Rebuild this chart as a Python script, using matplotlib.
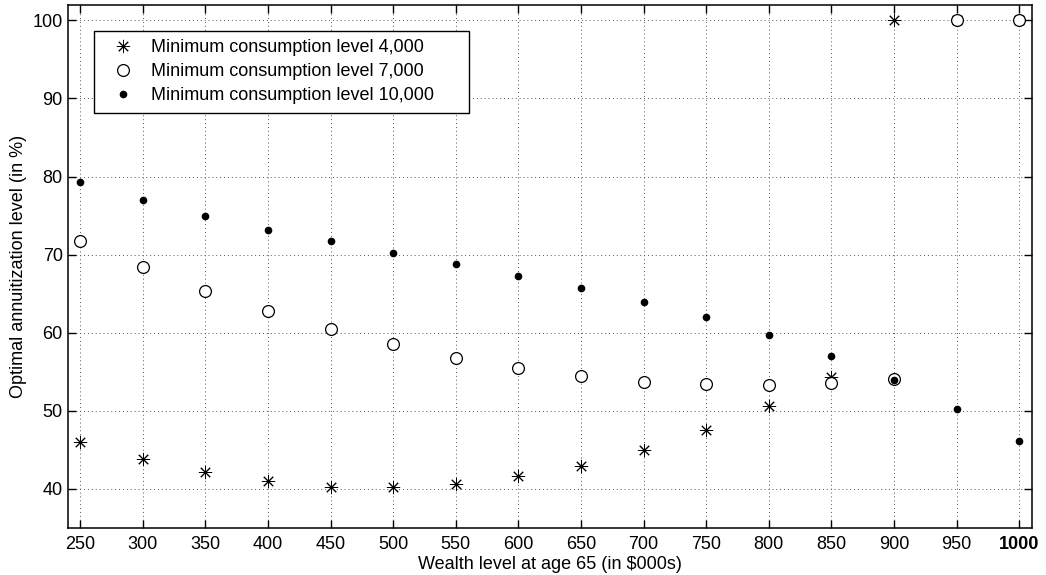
import matplotlib
matplotlib.use("Agg")
import matplotlib.pyplot as plt

wealth = [250, 300, 350, 400, 450, 500, 550, 600, 650, 700, 750, 800, 850, 900, 950, 1000]
min_4000 = [46.0, 43.8, 42.2, 41.0, 40.3, 40.2, 40.6, 41.6, 43.0, 45.0, 47.5, 50.6, 54.3, 100, 100, 100]
min_7000 = [71.7, 68.4, 65.4, 62.8, 60.5, 58.5, 56.8, 55.5, 54.4, 53.7, 53.4, 53.3, 53.6, 54.1, 100, 100]
min_10000 = [79.3, 77.0, 75.0, 73.2, 71.7, 70.2, 68.8, 67.3, 65.7, 63.9, 62.0, 59.7, 57.0, 54.0, 50.3, 46.2]
labels = ["Minimum consumption level 4,000",
          "Minimum consumption level 7,000",
          "Minimum consumption level 10,000"]
xticks = wealth
yticks = [40, 50, 60, 70, 80, 90, 100]

plt.rcParams['font.family'] = ['Liberation Sans', 'DejaVu Sans']
FS = 13

fig = plt.figure(figsize=(10.46, 5.75), dpi=100)
ax = fig.add_axes([0.0647, 0.0817, 0.9216, 0.9101])

ax.plot(wealth, min_4000, linestyle='none', marker=(8, 2, 0), markersize=9.5,
        markeredgewidth=0.7, color='black', label=labels[0], zorder=3)
ax.plot(wealth, min_7000, linestyle='none', marker='o', markersize=8.5,
        markerfacecolor='white', markeredgecolor='black', markeredgewidth=0.9,
        label=labels[1], zorder=4)
ax.plot(wealth, min_10000, linestyle='none', marker='o', markersize=4.5,
        color='black', label=labels[2], zorder=5)

ax.set_xlim(240, 1010)
ax.set_ylim(35, 102)
ax.set_xticks(xticks)
ax.set_yticks(yticks)
ax.set_xticklabels([str(v) for v in xticks])
for t in ax.get_xticklabels():
    if t.get_text() == '1000':
        t.set_fontweight('bold')

ax.grid(True, linestyle=(0, (1, 3)), color='#555555', linewidth=0.7)
ax.tick_params(direction='in', length=6, width=1, top=True, right=True,
               labelsize=FS)
ax.tick_params(axis='x', pad=6)
ax.tick_params(axis='y', pad=3.5)
for s in ax.spines.values():
    s.set_linewidth(1.1)

ax.set_xlabel("Wealth level at age 65 (in $000s)", fontsize=FS, labelpad=2)
ax.set_ylabel("Optimal annuitization level (in %)", fontsize=FS, labelpad=4)

leg = ax.legend(loc='upper left', bbox_to_anchor=(0.027, 0.5, 0.389, 0.45),
                mode='expand', fontsize=FS,
                frameon=True, fancybox=False, edgecolor='black', framealpha=1,
                borderpad=0.45, labelspacing=0.4, handletextpad=0.3,
                handlelength=2.4, borderaxespad=0)
leg.get_frame().set_linewidth(1.0)

fig.savefig("out.png", dpi=100)
